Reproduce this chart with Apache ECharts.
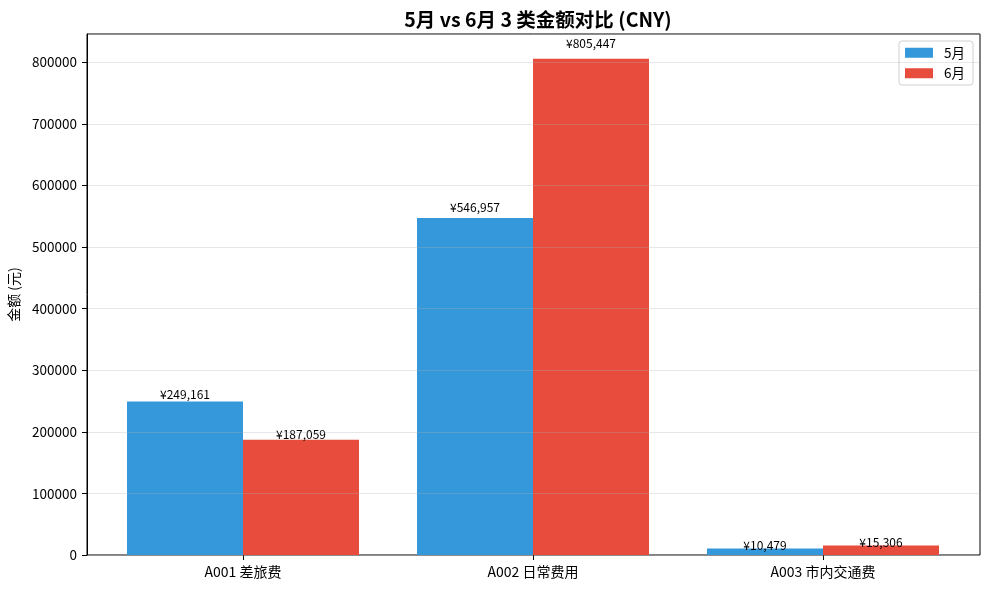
<!DOCTYPE html>
<html><head><meta charset="utf-8">
<script src="https://cdn.jsdelivr.net/npm/echarts@6/dist/echarts.min.js"></script>
<style>html,body{margin:0;padding:0;background:#fff}#c{width:989px;height:589px}</style>
</head><body><div id="c"></div>
<script>
const categories = ['A001 差旅费', 'A002 日常费用', 'A003 市内交通费'];
const seriesNames = ['5月', '6月'];
const may = [249161, 546957, 10479];
const june = [187059, 805447, 15306];
const yTicks = [0, 100000, 200000, 300000, 400000, 500000, 600000, 700000, 800000];

const F = '"Noto Sans CJK SC","Noto Sans",sans-serif';
const yMax = Math.max(...may, ...june) * 1.05;
const pxPerUnit = 521 / yMax;
const fmt = v => '¥' + v.toLocaleString('en-US');
function mk(vals) {
  return vals.map(v => ({ value: v, label: { distance: -3 + v * 0.024 * pxPerUnit } }));
}

const chart = echarts.init(document.getElementById('c'));
chart.setOption({
  animation: false,
  backgroundColor: '#fff',
  title: {
    text: '5月 vs 6月 3 类金额对比 (CNY)', left: 533, top: 5, textAlign: 'center',
    textStyle: { fontFamily: F, fontSize: 19.5, fontWeight: 'bold', color: '#000' }
  },
  legend: {
    data: seriesNames, orient: 'vertical', right: 16, top: 41,
    icon: 'rect', itemWidth: 28, itemHeight: 10, itemGap: 7,
    borderColor: '#d0d0d0', borderWidth: 1, borderRadius: 3, padding: [5, 8, 5, 6],
    textStyle: { fontFamily: F, fontSize: 13.5, color: '#000', padding: [0, 0, 0, 6] }
  },
  grid: [
    { left: 87, right: 9, top: 34, bottom: 34, show: true, borderColor: '#000', borderWidth: 1, outerBoundsMode: 'none', containLabel: false },
    { left: 98, right: 21, top: 34, bottom: 34, outerBoundsMode: 'none', containLabel: false }
  ],
  xAxis: [
    { gridIndex: 0, type: 'value', min: 0, max: 1, show: false },
    {
      gridIndex: 1, type: 'category', data: categories,
      axisLine: { show: false },
      axisTick: { show: true, alignWithLabel: true, length: 5, lineStyle: { color: '#000' } },
      axisLabel: { fontFamily: F, fontSize: 14, color: '#000', margin: 10 }
    }
  ],
  yAxis: [
    {
      gridIndex: 0, type: 'value', min: 0, max: yMax, interval: 100000, z: 5,
      name: '金额 (元)', nameLocation: 'middle', nameGap: 64, nameRotate: 90,
      nameTextStyle: { fontFamily: F, fontSize: 14, color: '#000' },
      axisLine: { show: true, lineStyle: { color: '#000' } },
      axisTick: { show: true, length: 5, lineStyle: { color: '#000' } },
      axisLabel: {
        fontFamily: F, fontSize: 13.5, color: '#000', margin: 10,
        showMaxLabel: false,
        formatter: v => (yTicks.includes(v) ? String(v) : '')
      },
      splitLine: { show: true, lineStyle: { color: 'rgba(176,176,176,0.3)', width: 1 } }
    },
    { gridIndex: 1, type: 'value', min: 0, max: yMax, show: false, splitLine: { show: false } }
  ],
  series: [
    {
      name: seriesNames[0], type: 'bar', xAxisIndex: 1, yAxisIndex: 1,
      data: mk(may), barWidth: '40%', barGap: '0%',
      itemStyle: { color: '#3498db' },
      label: { show: true, position: 'top', formatter: p => fmt(p.value), fontFamily: F, fontSize: 12, color: '#000' }
    },
    {
      name: seriesNames[1], type: 'bar', xAxisIndex: 1, yAxisIndex: 1,
      data: mk(june), barWidth: '40%', barGap: '0%',
      itemStyle: { color: '#e74c3c' },
      label: { show: true, position: 'top', formatter: p => fmt(p.value), fontFamily: F, fontSize: 12, color: '#000' }
    }
  ]
});
</script></body></html>
